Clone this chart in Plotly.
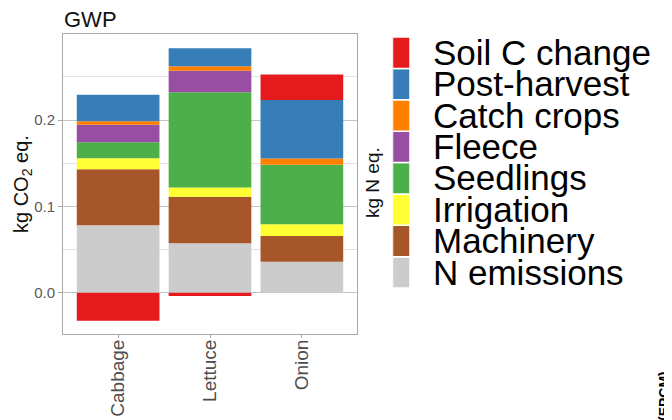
import plotly.graph_objects as go

crops = ["Cabbage", "Lettuce", "Onion"]

n_emissions = [0.0781, 0.0572, 0.0359]
machinery = [0.0650, 0.0541, 0.0298]
irrigation = [0.0128, 0.0105, 0.0135]
seedlings = [0.0185, 0.1105, 0.0692]
fleece = [0.0201, 0.0248, 0.0]
catch_crops = [0.0043, 0.0054, 0.0070]
post_harvest = [0.0305, 0.0208, 0.0680]
soil_c_change = [-0.0324, -0.0038, 0.0294]

series_names = ["N emissions", "Machinery", "Irrigation", "Seedlings",
                "Fleece", "Catch crops", "Post-harvest", "Soil C change"]
series_values = [n_emissions, machinery, irrigation, seedlings,
                 fleece, catch_crops, post_harvest, soil_c_change]
series_colors = ["#CCCCCC", "#A65628", "#FFFF33", "#4DAF4A",
                 "#984EA3", "#FF7F00", "#377EB8", "#E41A1C"]

y_ticks = [0.0, 0.1, 0.2]
y_tick_labels = ["0.0", "0.1", "0.2"]

# page body has an 8px margin, so the figure starts at (8, 8) in the window
WIN_W, WIN_H = 672, 420
OFF = 8
W, H = WIN_W - OFF, WIN_H - OFF


def px(x):
    return (x - OFF) / W


def py(y):
    return (WIN_H - y) / H


FONT = "Liberation Sans, Arial, sans-serif"

fig = go.Figure()

for name, vals, col in zip(series_names, series_values, series_colors):
    fig.add_trace(go.Bar(
        x=crops, y=vals, name=name, marker=dict(color=col, line=dict(width=0)),
        xaxis="x", yaxis="y", showlegend=False))

# legend key drawn as a stacked bar on its own axes
for name, col in zip(series_names, series_colors):
    fig.add_trace(go.Bar(
        x=["key"], y=[1], width=[1], name=name,
        marker=dict(color=col, line=dict(width=1.5, color="white")),
        xaxis="x2", yaxis="y2", showlegend=False, hoverinfo="name"))

grid_major = "#C4C4C4"
grid_minor = "#E3E3E3"
border = "#A8A8A8"

fig.update_layout(
    width=W, height=H,
    margin=dict(l=0, r=0, t=0, b=0, autoexpand=False),
    paper_bgcolor="white", plot_bgcolor="white",
    barmode="relative", bargap=0.1,
    font=dict(family=FONT, color="#222222"),
    xaxis=dict(
        domain=[px(63), px(357)], anchor="y", automargin=False,
        type="category", range=[-0.6, 2.6],
        showgrid=False, zeroline=False,
        showline=True, mirror=True, linecolor=border, linewidth=1,
        ticks="outside", ticklen=3, tickcolor=border,
        ticklabelstandoff=-6,
        tickangle=-90, tickfont=dict(size=19, color="#4D4D4D", family=FONT),
    ),
    yaxis=dict(
        domain=[py(334), py(34)], anchor="x", automargin=False,
        range=[-0.0479, 0.2998],
        tickvals=y_ticks, ticktext=y_tick_labels,
        showgrid=True, gridcolor=grid_major, gridwidth=1,
        minor=dict(dtick=0.05, tick0=0, showgrid=True, gridcolor=grid_minor, gridwidth=1, ticks=""),
        zeroline=False,
        showline=True, mirror=True, linecolor=border, linewidth=1,
        ticks="outside", ticklen=4, tickcolor=border,
        tickfont=dict(size=15, color="#5A5A5A", family=FONT),
    ),
    xaxis2=dict(
        domain=[px(392.5), px(410)], anchor="y2", automargin=False,
        range=[-0.5, 0.5], visible=False, fixedrange=True,
    ),
    yaxis2=dict(
        domain=[py(288), py(37)], anchor="x2", automargin=False,
        range=[0, len(series_names)], side="right",
        tickvals=[i + 0.5 for i in range(len(series_names))],
        ticktext=series_names,
        showgrid=False, zeroline=False, showline=False,
        ticks="", ticklabelstandoff=22,
        tickfont=dict(size=35, color="#000000", family=FONT),
        fixedrange=True,
    ),
    annotations=[
        dict(text="GWP", xref="paper", yref="paper", x=px(62), y=py(20),
             xanchor="left", yanchor="middle", showarrow=False,
             font=dict(size=22, color="#111111", family=FONT)),
        dict(text="kg CO<sub>2</sub> eq.", xref="paper", yref="paper",
             x=px(22), y=py(184), textangle=-90,
             xanchor="center", yanchor="middle", showarrow=False,
             font=dict(size=20, color="#111111", family=FONT)),
        dict(text="kg N eq.", xref="paper", yref="paper",
             x=px(372), y=py(183), textangle=-90,
             xanchor="center", yanchor="middle", showarrow=False,
             font=dict(size=19, color="#111111", family=FONT)),
        dict(text="<b>(EPCM)</b>", xref="paper", yref="paper",
             x=px(664), y=py(369), textangle=-90,
             xanchor="center", yanchor="top", showarrow=False,
             font=dict(size=14, color="#000000", family=FONT)),
    ],
)

fig.write_html("out.html")
